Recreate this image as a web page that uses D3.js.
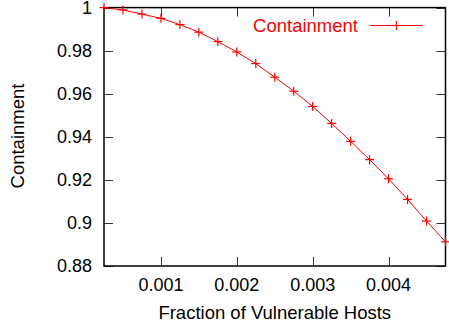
<!DOCTYPE html>
<html>
<head>
<meta charset="utf-8">
<script src="https://cdn.jsdelivr.net/npm/d3@7"></script>
<style>
  body { margin: 0; background: #fff; }
  text { font-family: "Liberation Sans", Arial, sans-serif; }
</style>
</head>
<body>
<svg id="chart" width="449" height="328"></svg>
<script>
// fraction of vulnerable hosts vs containment
var fractions = [0.00025, 0.0005, 0.00075, 0.001, 0.00125, 0.0015, 0.00175, 0.002, 0.00225, 0.0025,
                 0.00275, 0.003, 0.00325, 0.0035, 0.00375, 0.004, 0.00425, 0.0045, 0.00475];
var containment = [1.0, 0.9989, 0.9970, 0.9950, 0.9921, 0.9886, 0.9842, 0.9794, 0.9740, 0.9677,
                   0.9612, 0.9541, 0.9462, 0.9379, 0.9294, 0.9205, 0.9109, 0.9009, 0.8912];
var xTicks = [0.001, 0.002, 0.003, 0.004];
var yTicks = [0.88, 0.9, 0.92, 0.94, 0.96, 0.98, 1];
var seriesName = "Containment";

var data = fractions.map(function(f, i){ return {x: f, y: containment[i]}; });

var pLeft = 104, pRight = 445.5, pTop = 7.6, pBottom = 266;
var svg = d3.select("#chart");

var x = d3.scaleLinear().domain([0.00025, 0.00475]).range([pLeft, pRight]);
var y = d3.scaleLinear().domain([0.88, 1]).range([pBottom, pTop]);

var tickLen = 9;
var fmt = function(d){ return String(+d.toFixed(4)); };

// ticks (inward, mirrored)
var ticks = svg.append("g").attr("stroke", "#333").attr("stroke-width", 1);
xTicks.forEach(function(t){
    var px = Math.round(x(t)) + 0.5;
    ticks.append("line").attr("x1", px).attr("x2", px).attr("y1", pBottom).attr("y2", pBottom - tickLen);
    ticks.append("line").attr("x1", px).attr("x2", px).attr("y1", pTop).attr("y2", pTop + tickLen);
});
yTicks.forEach(function(t){
    var py = Math.round(y(t)) + 0.5;
    ticks.append("line").attr("x1", pLeft).attr("x2", pLeft + tickLen).attr("y1", py).attr("y2", py);
    ticks.append("line").attr("x1", pRight).attr("x2", pRight - tickLen).attr("y1", py).attr("y2", py);
});

// frame
svg.append("rect")
    .attr("x", pLeft).attr("y", pTop)
    .attr("width", pRight - pLeft).attr("height", pBottom - pTop)
    .attr("fill", "none").attr("stroke", "#000").attr("stroke-width", 1.5);

// tick labels
svg.selectAll("text.xt").data(xTicks).enter().append("text")
    .attr("class", "xt")
    .attr("x", function(d){ return x(d); })
    .attr("y", 291)
    .attr("text-anchor", "middle")
    .attr("font-size", 18)
    .text(fmt);

svg.selectAll("text.yt").data(yTicks).enter().append("text")
    .attr("class", "yt")
    .attr("x", 92)
    .attr("y", function(d){ return y(d) + 6.4; })
    .attr("text-anchor", "end")
    .attr("font-size", 18)
    .text(fmt);

// axis titles
svg.append("text")
    .attr("x", (pLeft + pRight) / 2).attr("y", 319)
    .attr("text-anchor", "middle").attr("font-size", 18.5)
    .text("Fraction of Vulnerable Hosts");

svg.append("text")
    .attr("transform", "translate(24,136) rotate(-90)")
    .attr("text-anchor", "middle").attr("font-size", 18.5)
    .text("Containment");

// series
var line = d3.line().x(function(d){ return x(d.x); }).y(function(d){ return y(d.y); });
svg.append("path")
    .datum(data)
    .attr("d", line)
    .attr("fill", "none").attr("stroke", "#f00").attr("stroke-width", 1);

var ms = 4.5;
function plus(g, cx, cy){
    g.append("line").attr("x1", cx - ms).attr("x2", cx + ms).attr("y1", cy).attr("y2", cy);
    g.append("line").attr("x1", cx).attr("x2", cx).attr("y1", cy - ms).attr("y2", cy + ms);
}
var marks = svg.append("g").attr("stroke", "#f00").attr("stroke-width", 1.2);
data.forEach(function(d){ plus(marks, x(d.x), y(d.y)); });

// legend
svg.append("text")
    .attr("x", 358).attr("y", 32)
    .attr("text-anchor", "end").attr("font-size", 18.5).attr("fill", "#f00")
    .text(seriesName);
var lg = svg.append("g").attr("stroke", "#f00").attr("stroke-width", 1.2);
lg.append("line").attr("x1", 370).attr("x2", 423).attr("y1", 25.5).attr("y2", 25.5);
plus(lg, 396.5, 25.5);
</script>
</body>
</html>
